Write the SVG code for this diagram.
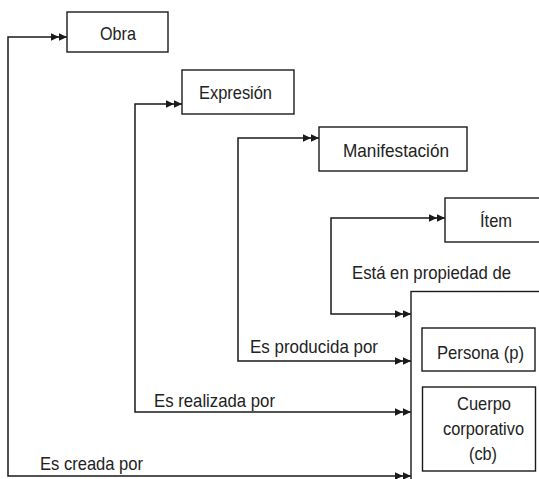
<svg xmlns="http://www.w3.org/2000/svg" width="539" height="479" viewBox="0 0 539 479">
<defs>
<style>
.box{fill:#fff;stroke:#1a1a1a;stroke-width:1.4}
.con{fill:none;stroke:#1a1a1a;stroke-width:1.5;marker-start:url(#dbl);marker-end:url(#dbl)}
text{font-family:"Liberation Sans Narrow","Liberation Sans",Arial,sans-serif;font-size:18.5px;fill:#222}
</style>
<marker id="dbl" markerUnits="userSpaceOnUse" markerWidth="17" markerHeight="9" refX="16" refY="4.5" orient="auto-start-reverse" viewBox="0 0 17 9">
<path d="M0,0.8 L8,4.5 L0,8.2 Z M8,0.8 L16,4.5 L8,8.2 Z" fill="#1a1a1a"/>
</marker>
</defs>
<rect width="539" height="479" fill="#fff"/>
<g id="connectors">
<path class="con" d="M67,37 H8 V476 H411"/>
<path class="con" d="M182,104 H135 V412 H411"/>
<path class="con" d="M319,138 H238 V361 H411"/>
<path class="con" d="M445,218 H331 V314 H411"/>
<text x="352" y="279" textLength="159" lengthAdjust="spacingAndGlyphs">Está en propiedad de</text>
<text x="250" y="353" textLength="128" lengthAdjust="spacingAndGlyphs">Es producida por</text>
<text x="154" y="407" textLength="121" lengthAdjust="spacingAndGlyphs">Es realizada por</text>
<text x="40" y="470" textLength="103" lengthAdjust="spacingAndGlyphs">Es creada por</text>
</g>
<g id="obra">
<rect class="box" x="67" y="12" width="101" height="40"/>
<text x="100" y="40" textLength="36" lengthAdjust="spacingAndGlyphs">Obra</text>
</g>
<g id="expresion">
<rect class="box" x="182" y="70" width="112" height="44"/>
<text x="199" y="99" textLength="73" lengthAdjust="spacingAndGlyphs">Expresión</text>
</g>
<g id="manifestacion">
<rect class="box" x="319" y="127" width="148" height="44"/>
<text x="343" y="157" textLength="106" lengthAdjust="spacingAndGlyphs">Manifestación</text>
</g>
<g id="item">
<rect class="box" x="445" y="198" width="110" height="44"/>
<text x="480" y="227" textLength="32" lengthAdjust="spacingAndGlyphs">Ítem</text>
</g>
<g id="agente">
<rect class="box" x="411" y="291.5" width="140" height="200"/>
</g>
<g id="persona">
<rect class="box" x="422" y="328" width="113" height="43"/>
<text x="437" y="359" textLength="87" lengthAdjust="spacingAndGlyphs">Persona (p)</text>
</g>
<g id="cuerpo">
<rect class="box" x="422.5" y="387" width="113" height="84"/>
<text x="457" y="410" textLength="54" lengthAdjust="spacingAndGlyphs">Cuerpo</text>
<text x="443" y="435" textLength="81" lengthAdjust="spacingAndGlyphs">corporativo</text>
<text x="469" y="460" textLength="28" lengthAdjust="spacingAndGlyphs">(cb)</text>
</g>
</svg>
